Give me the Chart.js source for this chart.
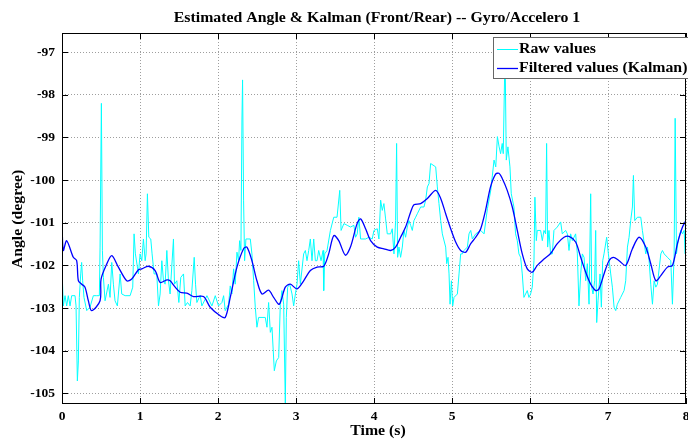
<!DOCTYPE html>
<html>
<head>
<meta charset="utf-8">
<script src="https://cdn.jsdelivr.net/npm/chart.js@4.4.1/dist/chart.umd.min.js"></script>
<style>
    html, body { margin: 0; padding: 0; background: #fff; }
    #wrap { width: 688px; height: 444px; }
</style>
</head>
<body>
<div id="wrap"><canvas id="angleChart" width="688" height="444"></canvas></div>
<script>
    // Raw accelerometer angle (cyan)
    const rawTime = [
        0.000, 0.017, 0.039, 0.060, 0.081, 0.103, 0.124, 0.167, 0.180, 0.197, 0.210, 0.222, 0.240, 0.252, 0.265, 0.282,
        0.317, 0.359, 0.402, 0.445, 0.479, 0.488, 0.505, 0.518, 0.531, 0.552, 0.595, 0.616, 0.638, 0.659, 0.680, 0.710,
        0.745, 0.766, 0.809, 0.873, 0.907, 0.924, 0.941, 0.980, 1.001, 1.023, 1.044, 1.066, 1.078, 1.095, 1.113, 1.138,
        1.155, 1.181, 1.215, 1.237, 1.258, 1.280, 1.301, 1.322, 1.344, 1.365, 1.386, 1.429, 1.442, 1.472, 1.498, 1.523,
        1.558, 1.579, 1.609, 1.643, 1.665, 1.695, 1.712, 1.729, 1.772, 1.793, 1.858, 1.922, 1.965, 2.007, 2.050, 2.072,
        2.093, 2.136, 2.157, 2.178, 2.200, 2.221, 2.243, 2.264, 2.277, 2.294, 2.307, 2.315, 2.328, 2.341, 2.358, 2.414,
        2.435, 2.457, 2.478, 2.499, 2.521, 2.606, 2.628, 2.649, 2.671, 2.692, 2.722, 2.748, 2.778, 2.799, 2.820, 2.842,
        2.863, 2.876, 2.893, 2.919, 2.949, 2.970, 2.992, 3.013, 3.034, 3.056, 3.098, 3.120, 3.141, 3.163, 3.184, 3.205,
        3.227, 3.248, 3.270, 3.291, 3.321, 3.347, 3.355, 3.368, 3.398, 3.441, 3.484, 3.526, 3.561, 3.578, 3.614, 3.657,
        3.699, 3.742, 3.764, 3.785, 3.806, 3.828, 3.892, 3.935, 3.977, 3.999, 4.042, 4.063, 4.085, 4.106, 4.127, 4.149,
        4.170, 4.213, 4.234, 4.256, 4.277, 4.290, 4.303, 4.320, 4.341, 4.363, 4.384, 4.405, 4.427, 4.448, 4.470, 4.491,
        4.512, 4.534, 4.555, 4.598, 4.641, 4.662, 4.684, 4.705, 4.726, 4.791, 4.812, 4.833, 4.855, 4.876, 4.919, 4.932,
        4.949, 4.962, 4.975, 4.992, 5.009, 5.026, 5.069, 5.090, 5.111, 5.133, 5.154, 5.197, 5.218, 5.240, 5.261, 5.304,
        5.368, 5.411, 5.454, 5.497, 5.539, 5.561, 5.582, 5.604, 5.623, 5.644, 5.657, 5.674, 5.683, 5.696, 5.717, 5.743,
        5.760, 5.794, 5.815, 5.837, 5.858, 5.880, 5.901, 5.922, 5.965, 5.986, 6.008, 6.029, 6.051, 6.063, 6.081, 6.093,
        6.136, 6.158, 6.179, 6.200, 6.213, 6.226, 6.243, 6.264, 6.286, 6.307, 6.350, 6.393, 6.414, 6.457, 6.479, 6.500,
        6.521, 6.543, 6.585, 6.607, 6.628, 6.650, 6.671, 6.693, 6.714, 6.735, 6.757, 6.778, 6.791, 6.808, 6.829, 6.842,
        6.855, 6.872, 6.898, 6.915, 6.932, 6.949, 6.983, 7.005, 7.035, 7.056, 7.078, 7.099, 7.120, 7.163, 7.206, 7.227,
        7.249, 7.270, 7.291, 7.313, 7.326, 7.343, 7.377, 7.420, 7.441, 7.484, 7.506, 7.527, 7.548, 7.570, 7.591, 7.613,
        7.634, 7.677, 7.698, 7.720, 7.762, 7.805, 7.826, 7.848, 7.861, 7.878, 7.899, 7.933, 7.955, 7.976, 7.990, 8.000
    ];
    const rawAngle = [
        -102.08, -102.95, -102.71, -102.95, -102.71, -102.95, -102.71, -102.71, -102.95, -104.71, -104.24, -102.75, -102.20, -101.93, -102.36, -102.75,
        -103.06, -102.98, -102.71, -102.71, -102.71, -101.57, -98.20, -101.65, -102.28, -102.83, -102.44, -102.75, -101.93, -102.44, -102.83, -102.95,
        -102.20, -102.67, -102.71, -102.71, -102.51, -101.26, -101.73, -102.20, -101.73, -101.89, -101.38, -101.89, -101.73, -100.32, -101.34, -101.38,
        -101.73, -102.20, -102.20, -102.95, -102.67, -101.89, -102.36, -102.44, -101.65, -102.36, -102.67, -101.38, -102.44, -102.36, -102.87, -102.28,
        -102.20, -102.95, -102.87, -102.95, -102.59, -101.81, -102.44, -102.87, -102.70, -102.95, -102.71, -102.95, -102.71, -102.95, -102.87, -102.71,
        -103.06, -102.91, -102.48, -102.67, -102.08, -102.44, -101.69, -101.89, -101.42, -101.65, -98.59, -97.65, -100.47, -101.89, -101.38, -101.38,
        -101.73, -102.36, -102.98, -103.45, -103.22, -103.22, -103.45, -102.87, -103.57, -103.45, -104.47, -104.24, -104.16, -102.91, -102.59, -102.91,
        -105.26, -103.22, -102.51, -102.44, -102.67, -102.95, -102.67, -102.44, -101.89, -102.44, -101.73, -101.65, -101.89, -101.65, -101.38, -101.89,
        -101.38, -101.89, -101.89, -101.65, -101.89, -101.65, -102.59, -101.73, -101.65, -101.18, -100.87, -100.87, -100.24, -101.18, -101.02, -101.06,
        -101.10, -101.06, -101.34, -101.26, -100.87, -101.38, -101.38, -101.34, -101.38, -101.18, -101.14, -101.38, -100.47, -100.71, -100.55, -100.91,
        -101.26, -101.26, -101.14, -101.73, -100.95, -99.14, -101.81, -101.57, -101.81, -101.57, -101.18, -101.34, -101.10, -100.95, -101.06, -101.18,
        -100.95, -100.87, -100.79, -100.63, -100.63, -100.47, -100.16, -100.08, -99.61, -99.69, -100.16, -100.55, -100.95, -101.26, -101.57, -101.96,
        -101.81, -102.20, -102.91, -102.36, -102.95, -102.75, -102.67, -102.20, -101.73, -101.73, -101.65, -101.57, -101.26, -101.18, -101.38, -101.26,
        -101.18, -101.26, -100.67, -100.24, -99.53, -99.69, -98.98, -99.22, -99.38, -99.14, -99.38, -97.60, -97.45, -99.53, -99.22, -99.69,
        -100.32, -100.63, -101.26, -101.42, -101.73, -101.81, -102.20, -102.75, -102.59, -102.75, -102.67, -102.51, -101.89, -100.40, -101.42, -101.18,
        -101.18, -101.42, -101.18, -101.26, -99.14, -101.57, -101.18, -101.73, -101.73, -101.18, -101.10, -100.98, -101.26, -101.18, -101.26, -101.65,
        -101.26, -101.42, -101.26, -101.73, -102.95, -102.20, -101.73, -101.81, -102.36, -101.96, -102.91, -100.32, -102.51, -102.67, -102.36, -101.18,
        -103.34, -102.83, -102.20, -102.98, -101.89, -101.73, -101.34, -101.73, -102.20, -102.51, -102.98, -103.06, -102.91, -102.75, -102.59, -102.36,
        -101.57, -101.34, -100.95, -100.63, -99.89, -100.95, -100.87, -100.87, -101.18, -101.73, -101.57, -101.89, -102.44, -102.91, -102.36, -102.51,
        -102.44, -101.73, -101.65, -101.73, -101.81, -101.89, -102.91, -101.73, -98.55, -101.73, -101.42, -101.18, -101.26, -101.18, -101.73, -99.00
    ];

    // Kalman estimate (blue)
    const kalmanTime = [
        0.000, 0.017, 0.060, 0.145, 0.188, 0.210, 0.252, 0.295, 0.338, 0.381, 0.488, 0.501, 0.573, 0.638, 0.723, 0.830,
        0.894, 0.980, 1.023, 1.108, 1.194, 1.258, 1.344, 1.386, 1.451, 1.515, 1.600, 1.686, 1.814, 1.900, 2.028, 2.093,
        2.157, 2.243, 2.328, 2.371, 2.435, 2.499, 2.564, 2.649, 2.713, 2.786, 2.863, 2.927, 3.013, 3.098, 3.184, 3.270,
        3.355, 3.419, 3.484, 3.548, 3.633, 3.698, 3.783, 3.828, 3.892, 3.956, 4.042, 4.127, 4.213, 4.277, 4.341, 4.405,
        4.470, 4.512, 4.598, 4.684, 4.791, 4.855, 4.919, 4.983, 5.047, 5.111, 5.176, 5.240, 5.304, 5.368, 5.430, 5.494,
        5.559, 5.601, 5.644, 5.708, 5.773, 5.837, 5.901, 5.965, 6.029, 6.093, 6.179, 6.264, 6.350, 6.436, 6.500, 6.585,
        6.650, 6.714, 6.778, 6.842, 6.885, 6.949, 7.013, 7.069, 7.142, 7.227, 7.313, 7.398, 7.484, 7.548, 7.613, 7.677,
        7.762, 7.826, 7.890, 7.955, 8.000
    ];
    const kalmanAngle = [
        -101.02, -101.65, -101.42, -101.81, -101.89, -102.36, -102.44, -102.51, -102.83, -103.06, -102.83, -102.32, -101.97, -101.77, -102.04, -102.36,
        -102.32, -102.10, -102.08, -102.02, -102.12, -102.40, -102.34, -102.36, -102.51, -102.63, -102.65, -102.73, -102.73, -102.98, -103.18, -103.22,
        -102.75, -102.04, -101.61, -101.57, -101.89, -102.36, -102.67, -102.58, -102.75, -102.91, -102.51, -102.44, -102.55, -102.36, -102.12, -102.04,
        -102.02, -101.73, -101.30, -101.42, -101.76, -101.57, -101.02, -100.91, -101.14, -101.42, -101.57, -101.61, -101.65, -101.57, -101.34, -101.10,
        -100.75, -100.58, -100.55, -100.43, -100.24, -100.43, -100.79, -101.14, -101.45, -101.65, -101.69, -101.49, -101.34, -101.14, -100.71, -100.16,
        -99.86, -99.84, -99.96, -100.24, -100.63, -101.18, -101.73, -102.08, -102.16, -102.00, -101.85, -101.72, -101.49, -101.34, -101.32, -101.45,
        -101.81, -102.16, -102.44, -102.59, -102.55, -102.20, -101.89, -101.81, -101.89, -102.00, -101.61, -101.34, -101.57, -101.96, -102.36, -102.24,
        -102.04, -102.00, -101.49, -101.10, -100.95
    ];

    const xTicks = [0, 1, 2, 3, 4, 5, 6, 7, 8];
    const yTicks = [-105, -104, -103, -102, -101, -100, -99, -98, -97];
    const seriesNames = ['Raw values', 'Filtered values (Kalman)'];
    const titleText = 'Estimated Angle & Kalman (Front/Rear) -- Gyro/Accelero 1';
    const xTitle = 'Time (s)';
    const yTitle = 'Angle (degree)';

    const FONT = '"Liberation Serif", "Times New Roman", serif';

    function stretchedText(ctx, text, x, y, size, align, angle) {
        ctx.save();
        ctx.translate(x, y);
        if (angle) ctx.rotate(angle);
        ctx.scale(1.13, 1);
        ctx.font = `bold ${size}px ${FONT}`;
        ctx.fillStyle = '#000';
        ctx.textAlign = align;
        ctx.textBaseline = 'middle';
        ctx.fillText(text, 0, 0);
        ctx.restore();
    }

    const matlabFrame = {
        id: 'matlabFrame',
        afterDraw(chart) {
            const ctx = chart.ctx;
            const a = chart.chartArea;
            const xs = chart.scales.x;
            const ys = chart.scales.y;

            ctx.save();
            ctx.strokeStyle = '#000';
            ctx.lineWidth = 1;
            ctx.strokeRect(a.left + 0.5, a.top + 0.5, a.right - a.left - 1, a.bottom - a.top - 1);

            // MATLAB style inward ticks on all four sides
            ctx.beginPath();
            xTicks.forEach(v => {
                const px = Math.round(xs.getPixelForValue(v)) + 0.5;
                ctx.moveTo(px, a.bottom); ctx.lineTo(px, a.bottom - 6);
                ctx.moveTo(px, a.top); ctx.lineTo(px, a.top + 6);
            });
            yTicks.forEach(v => {
                const py = Math.round(ys.getPixelForValue(v)) + 0.5;
                ctx.moveTo(a.left, py); ctx.lineTo(a.left + 6, py);
                ctx.moveTo(a.right, py); ctx.lineTo(a.right - 6, py);
            });
            ctx.stroke();
            ctx.restore();

            stretchedText(ctx, titleText, 377, 18, 14, 'center');
            stretchedText(ctx, xTitle, 378, 431, 14, 'center');
            stretchedText(ctx, yTitle, 18, 219, 14, 'center', -Math.PI / 2);

            // legend box
            const lx = 493, ly = 37, lw = 200, lh = 41;
            ctx.save();
            ctx.fillStyle = '#fff';
            ctx.fillRect(lx, ly, lw, lh);
            ctx.strokeStyle = '#666';
            ctx.lineWidth = 1;
            ctx.strokeRect(lx + 0.5, ly + 0.5, lw, lh);
            chart.data.datasets.forEach((ds, i) => {
                const rowY = 49 + i * 19;
                ctx.strokeStyle = ds.borderColor;
                ctx.lineWidth = ds.borderWidth;
                ctx.beginPath();
                ctx.moveTo(497, rowY + 0.5);
                ctx.lineTo(518, rowY + 0.5);
                ctx.stroke();
                stretchedText(ctx, seriesNames[i], 519, rowY, 14, 'left');
            });
            ctx.restore();
        }
    };

    const tickFont = { family: FONT, size: 13.5, weight: 'bold' };

    new Chart(document.getElementById('angleChart'), {
        type: 'line',
        data: {
            datasets: [{
                label: seriesNames[0],
                data: rawTime.map((t, i) => ({ x: t, y: rawAngle[i] })),
                borderColor: '#00ffff',
                borderWidth: 1,
                pointRadius: 0,
                tension: 0,
                order: 2
            }, {
                label: seriesNames[1],
                data: kalmanTime.map((t, i) => ({ x: t, y: kalmanAngle[i] })),
                borderColor: '#0000ff',
                borderWidth: 1.3,
                pointRadius: 0,
                tension: 0.3,
                order: 1
            }]
        },
        options: {
            responsive: false,
            animation: false,
            devicePixelRatio: 1,
            layout: { padding: { top: 33, right: 2, left: 0, bottom: 0 } },
            plugins: {
                legend: { display: false },
                title: { display: false },
                tooltip: { enabled: false }
            },
            scales: {
                x: {
                    type: 'linear',
                    min: 0,
                    max: 8,
                    afterBuildTicks: s => { s.ticks = xTicks.map(v => ({ value: v })); },
                    afterFit: s => { s.height = 40; s.paddingLeft = 0; s.paddingRight = 0; },
                    grid: { color: 'rgba(0,0,0,0.38)', drawTicks: false },
                    border: { display: false, dash: [1, 2] },
                    ticks: { color: '#000', font: tickFont, padding: 4, maxRotation: 0, callback: v => String(v) }
                },
                y: {
                    min: -105.25,
                    max: -96.55,
                    afterBuildTicks: s => { s.ticks = yTicks.map(v => ({ value: v })); },
                    afterFit: s => { s.width = 62; s.paddingTop = 0; s.paddingBottom = 0; },
                    grid: { color: 'rgba(0,0,0,0.38)', drawTicks: false },
                    border: { display: false, dash: [1, 2] },
                    ticks: { color: '#000', font: tickFont, padding: 7, callback: v => String(v) }
                }
            }
        },
        plugins: [matlabFrame]
    });
</script>
</body>
</html>
